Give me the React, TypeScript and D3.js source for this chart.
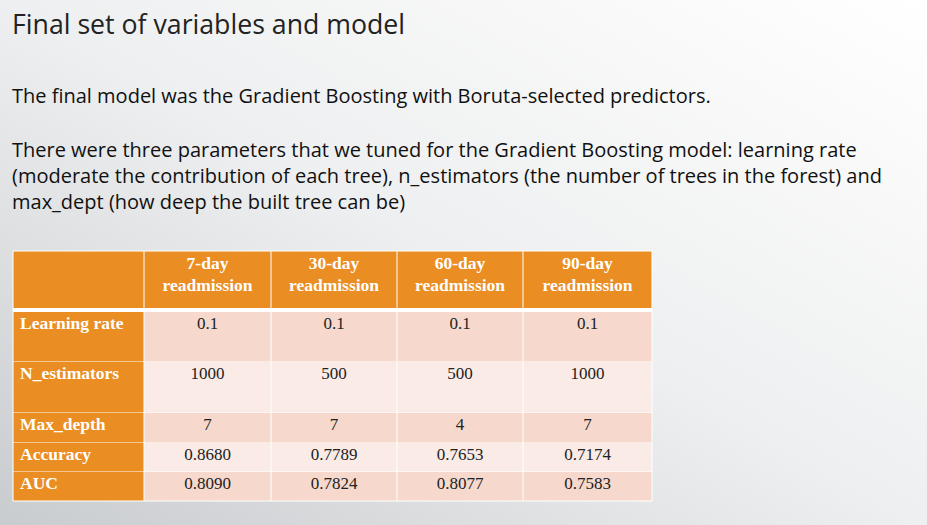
import React from 'react';
import * as d3 from 'd3';

const columns = ['7-day readmission', '30-day readmission', '60-day readmission', '90-day readmission'];
const rowLabels = ['Learning rate', 'N_estimators', 'Max_depth', 'Accuracy', 'AUC'];
const learningRate = ['0.1', '0.1', '0.1', '0.1'];
const nEstimators = ['1000', '500', '500', '1000'];
const maxDepth = ['7', '7', '4', '7'];
const accuracy = ['0.8680', '0.7789', '0.7653', '0.7174'];
const auc = ['0.8090', '0.7824', '0.8077', '0.7583'];
const rowValues = [learningRate, nEstimators, maxDepth, accuracy, auc];
const rowHeights = [50, 51, 30, 29, 29];

const ORANGE = '#EA8E23';
const SHADES = ['#F6D9CC', '#FAEBE6'];

export default function App() {
  const colEdges = [13, 144, 271, 397, 523, 652];
  const x = (i: number) => colEdges[i];
  const headTop = 251, headBottom = 308, bodyTop = 312;
  const ys: number[] = [bodyTop];
  rowHeights.forEach((h) => ys.push(ys[ys.length - 1] + h));
  const serif = '"Liberation Serif", "Times New Roman", serif';
  const sans = '"Open Sans", "Noto Sans", sans-serif';
  const color = d3.scaleOrdinal<number, string>().domain([0, 1]).range(SHADES);

  return (
    <svg width={927} height={525} style={{ position: 'absolute', left: 0, top: 0 }}>
      <defs>
        <linearGradient id="bg" x1="1" y1="0" x2="0" y2="1">
          <stop offset="0" stopColor="#ffffff" />
          <stop offset="0.5" stopColor="#eeeff0" />
          <stop offset="1" stopColor="#c9cccf" />
        </linearGradient>
      </defs>
      <rect width={927} height={525} fill="url(#bg)" />
      <text x={12} y={34} fontFamily={sans} fontSize={26.7} fill="#222">Final set of variables and model</text>
      <g fontFamily={sans} fontSize={20} fill="#111">
        <text x={12} y={103}>The final model was the Gradient Boosting with Boruta-selected predictors.</text>
        <text x={12} y={157}>There were three parameters that we tuned for the Gradient Boosting model: learning rate</text>
        <text x={12} y={183}>(moderate the contribution of each tree), n_estimators (the number of trees in the forest) and</text>
        <text x={12} y={209}>max_dept (how deep the built tree can be)</text>
      </g>
      <rect x={x(0)} y={headTop} width={x(5) - x(0)} height={headBottom - headTop} fill={ORANGE} />
      <rect x={x(0)} y={headBottom} width={x(5) - x(0)} height={bodyTop - headBottom} fill="#fff" />
      {columns.map((c, i) => {
        const cx = (x(i + 1) + x(i + 2)) / 2;
        const [a, b] = c.split(' ');
        return (
          <g key={c} fontFamily={serif} fontWeight="bold" fontSize={17.5} fill="#fff" textAnchor="middle">
            <text x={cx} y={269}>{a}</text>
            <text x={cx} y={291}>{b}</text>
          </g>
        );
      })}
      {rowLabels.map((r, ri) => (
        <g key={r}>
          <rect x={x(0)} y={ys[ri]} width={x(1) - x(0)} height={rowHeights[ri]} fill={ORANGE} />
          <rect x={x(1)} y={ys[ri]} width={x(5) - x(1)} height={rowHeights[ri]} fill={color(ri % 2)} />
          <text x={20} y={ys[ri] + 17} fontFamily={serif} fontWeight="bold" fontSize={17.5} fill="#fff">{r}</text>
          {rowValues[ri].map((v, ci) => (
            <text key={ci} x={(x(ci + 1) + x(ci + 2)) / 2} y={ys[ri] + 17} fontFamily={serif} fontSize={17} fill="#222" textAnchor="middle">{v}</text>
          ))}
          <line x1={x(0)} x2={x(5)} y1={ys[ri + 1]} y2={ys[ri + 1]} stroke="#fff" strokeWidth={1} />
        </g>
      ))}
      {colEdges.map((e) => (
        <line key={e} x1={e} x2={e} y1={headTop} y2={ys[ys.length - 1]} stroke="#fff" strokeWidth={1} />
      ))}
      <line x1={x(0)} x2={x(5)} y1={headTop} y2={headTop} stroke="#fff" />
    </svg>
  );
}
